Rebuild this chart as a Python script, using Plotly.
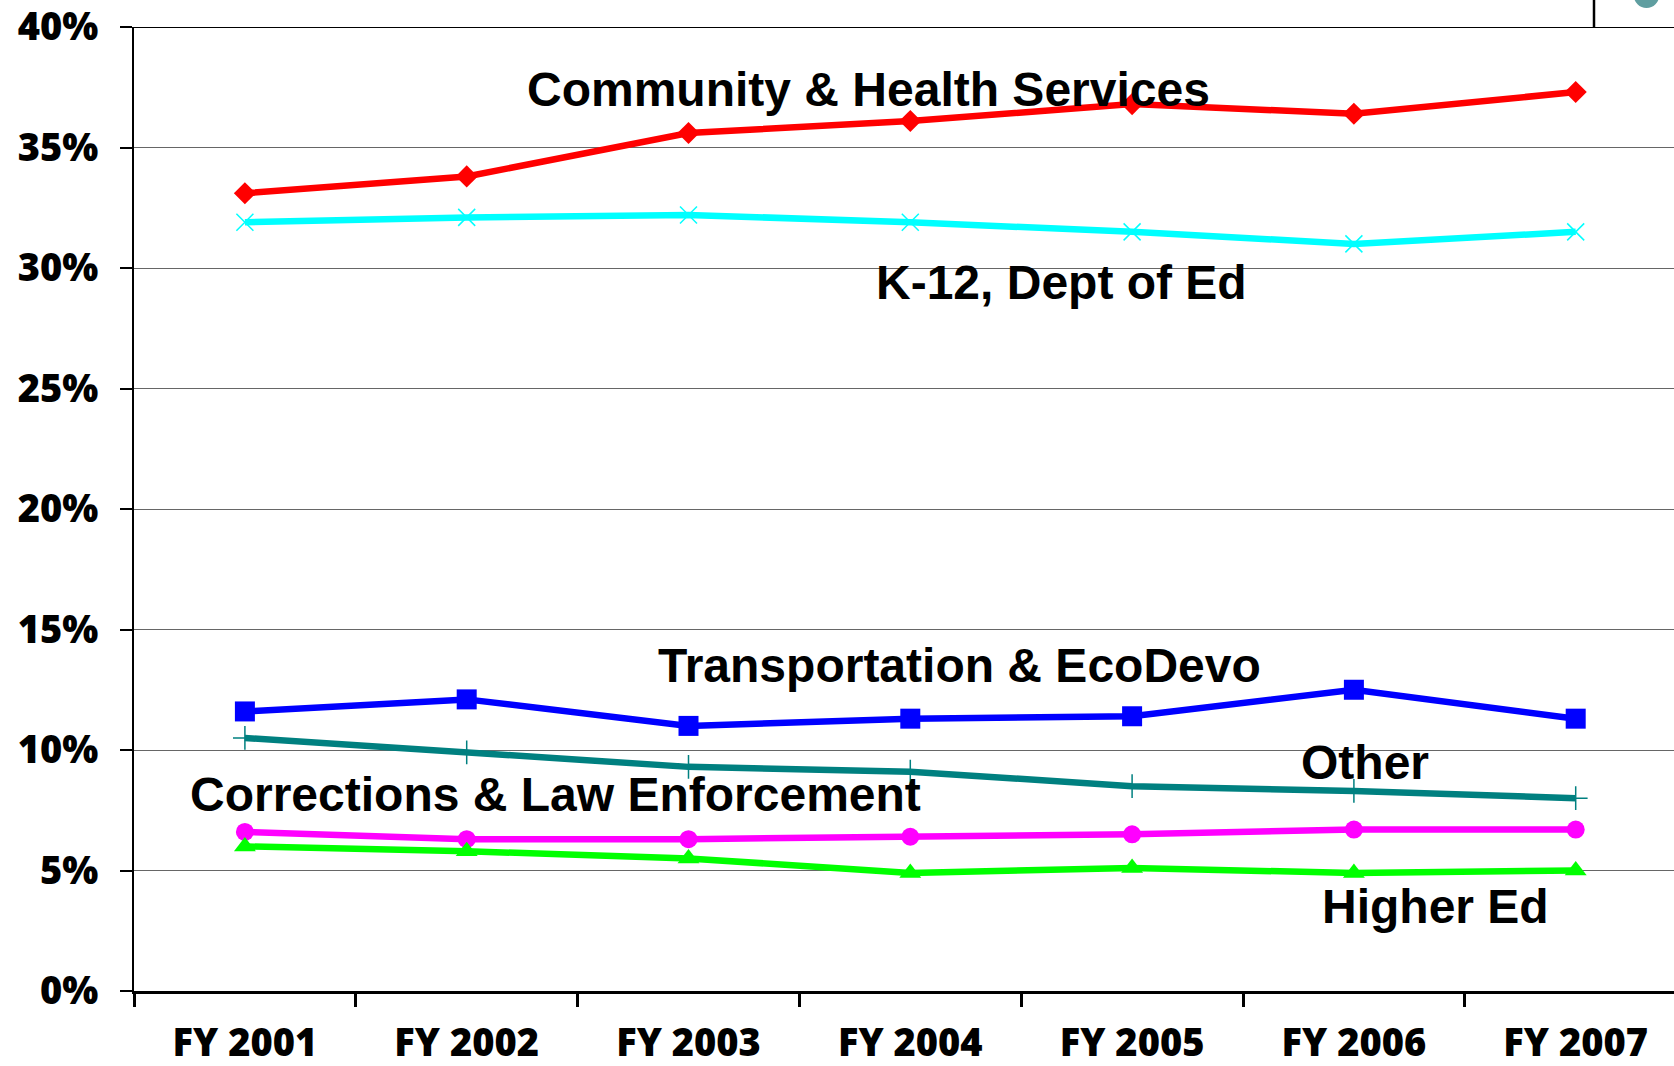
import plotly.graph_objects as go

years = ["FY 2001", "FY 2002", "FY 2003", "FY 2004", "FY 2005", "FY 2006", "FY 2007"]

community_health = [33.1, 33.8, 35.6, 36.1, 36.8, 36.4, 37.3]
k12_dept_ed = [31.9, 32.1, 32.2, 31.9, 31.5, 31.0, 31.5]
transportation = [11.6, 12.1, 11.0, 11.3, 11.4, 12.5, 11.3]
other = [10.5, 9.9, 9.3, 9.1, 8.5, 8.3, 8.0]
corrections = [6.6, 6.3, 6.3, 6.4, 6.5, 6.7, 6.7]
higher_ed = [6.0, 5.8, 5.5, 4.9, 5.1, 4.9, 5.0]

y_ticks = [0, 5, 10, 15, 20, 25, 30, 35, 40]
y_tick_text = ["0%", "5%", "10%", "15%", "20%", "25%", "30%", "35%", "40%"]

# label text, x position (category units), y position (%)
labels = [
    ("Community & Health Services", 2.81, 37.4),
    ("K-12, Dept of Ed", 3.68, 29.4),
    ("Transportation & EcoDevo", 3.22, 13.5),
    ("Other", 5.05, 9.5),
    ("Corrections & Law Enforcement", 1.40, 8.15),
    ("Higher Ed", 5.37, 3.5),
]

W, H = 1674, 1066
L, R, T, B = 134, 0, 27, 75

fig = go.Figure()

series = [
    (community_health, "#FF0000", "diamond", 17, {}),
    (k12_dept_ed, "#00FFFF", "x-thin-open", 17, {"line": {"width": 1.5, "color": "#00FFFF"}}),
    (transportation, "#0000FF", "square", 20, {}),
    (other, "#008080", "cross-thin-open", 17, {"line": {"width": 1.5, "color": "#008080"}}),
    (corrections, "#FF00FF", "circle", 18, {}),
    (higher_ed, "#00FF00", "triangle-up", 19, {}),
]
for values, color, symbol, size, extra in series:
    fig.add_scatter(
        x=years,
        y=values,
        mode="lines+markers",
        line={"color": color, "width": 6.5},
        marker={"symbol": symbol, "size": size, "color": color, **extra},
        showlegend=False,
        cliponaxis=False,
    )

for text, x, y in labels:
    fig.add_annotation(
        x=x,
        y=y,
        xref="x",
        yref="y",
        text=text,
        showarrow=False,
        xanchor="center",
        yanchor="middle",
        font={"family": "Liberation Sans, Arial", "size": 48, "color": "black", "weight": 700},
    )

plot_w = W - L - R
plot_h = H - T - B

# top border line of the chart frame
fig.add_shape(type="line", xref="paper", yref="y", x0=0, x1=1, y0=40, y1=40,
              line={"color": "black", "width": 2})
# slide furniture above the plot (top right)
vx = (1594 - L) / plot_w
fig.add_shape(type="line", xref="paper", yref="paper", x0=vx, x1=vx, y0=1, y1=1 + T / plot_h,
              line={"color": "black", "width": 2.5})
cx, cy, r = 1646.5, -4.7, 12.7
fig.add_shape(type="circle", xref="paper", yref="paper",
              x0=(cx - r - L) / plot_w, x1=(cx + r - L) / plot_w,
              y0=(H - B - (cy + r)) / plot_h, y1=(H - B - (cy - r)) / plot_h,
              fillcolor="#5F9EA0", line={"width": 0})

tick_font = {"family": "Open Sans, DejaVu Sans", "size": 38, "color": "black", "weight": 800}

fig.update_xaxes(
    type="category",
    range=[-0.5, -0.5 + plot_w / 221.8],
    automargin=False,
    showline=True,
    linecolor="black",
    linewidth=3,
    ticks="outside",
    tickson="boundaries",
    ticklen=13,
    tickwidth=3,
    tickcolor="black",
    showgrid=False,
    tickfont=tick_font,
    ticklabelstandoff=16,
    ticklabeloverflow="allow",
)
fig.update_yaxes(
    range=[0, 40],
    automargin=False,
    tickvals=y_ticks,
    ticktext=y_tick_text,
    showline=True,
    linecolor="black",
    linewidth=2,
    ticks="outside",
    ticklen=12,
    tickwidth=2,
    tickcolor="black",
    showgrid=True,
    gridcolor="#666666",
    gridwidth=1.2,
    zeroline=False,
    tickfont=tick_font,
    ticklabelstandoff=14,
    ticklabeloverflow="allow",
)

fig.update_layout(
    width=W,
    height=H,
    margin={"l": L, "r": R, "t": T, "b": B, "autoexpand": False},
    paper_bgcolor="white",
    plot_bgcolor="white",
    showlegend=False,
)

# the page's default body margin would offset the whole figure by 8px
fig.write_html(
    "out.html",
    config={"displayModeBar": False},
    post_script="document.body.style.margin = '0';",
)
